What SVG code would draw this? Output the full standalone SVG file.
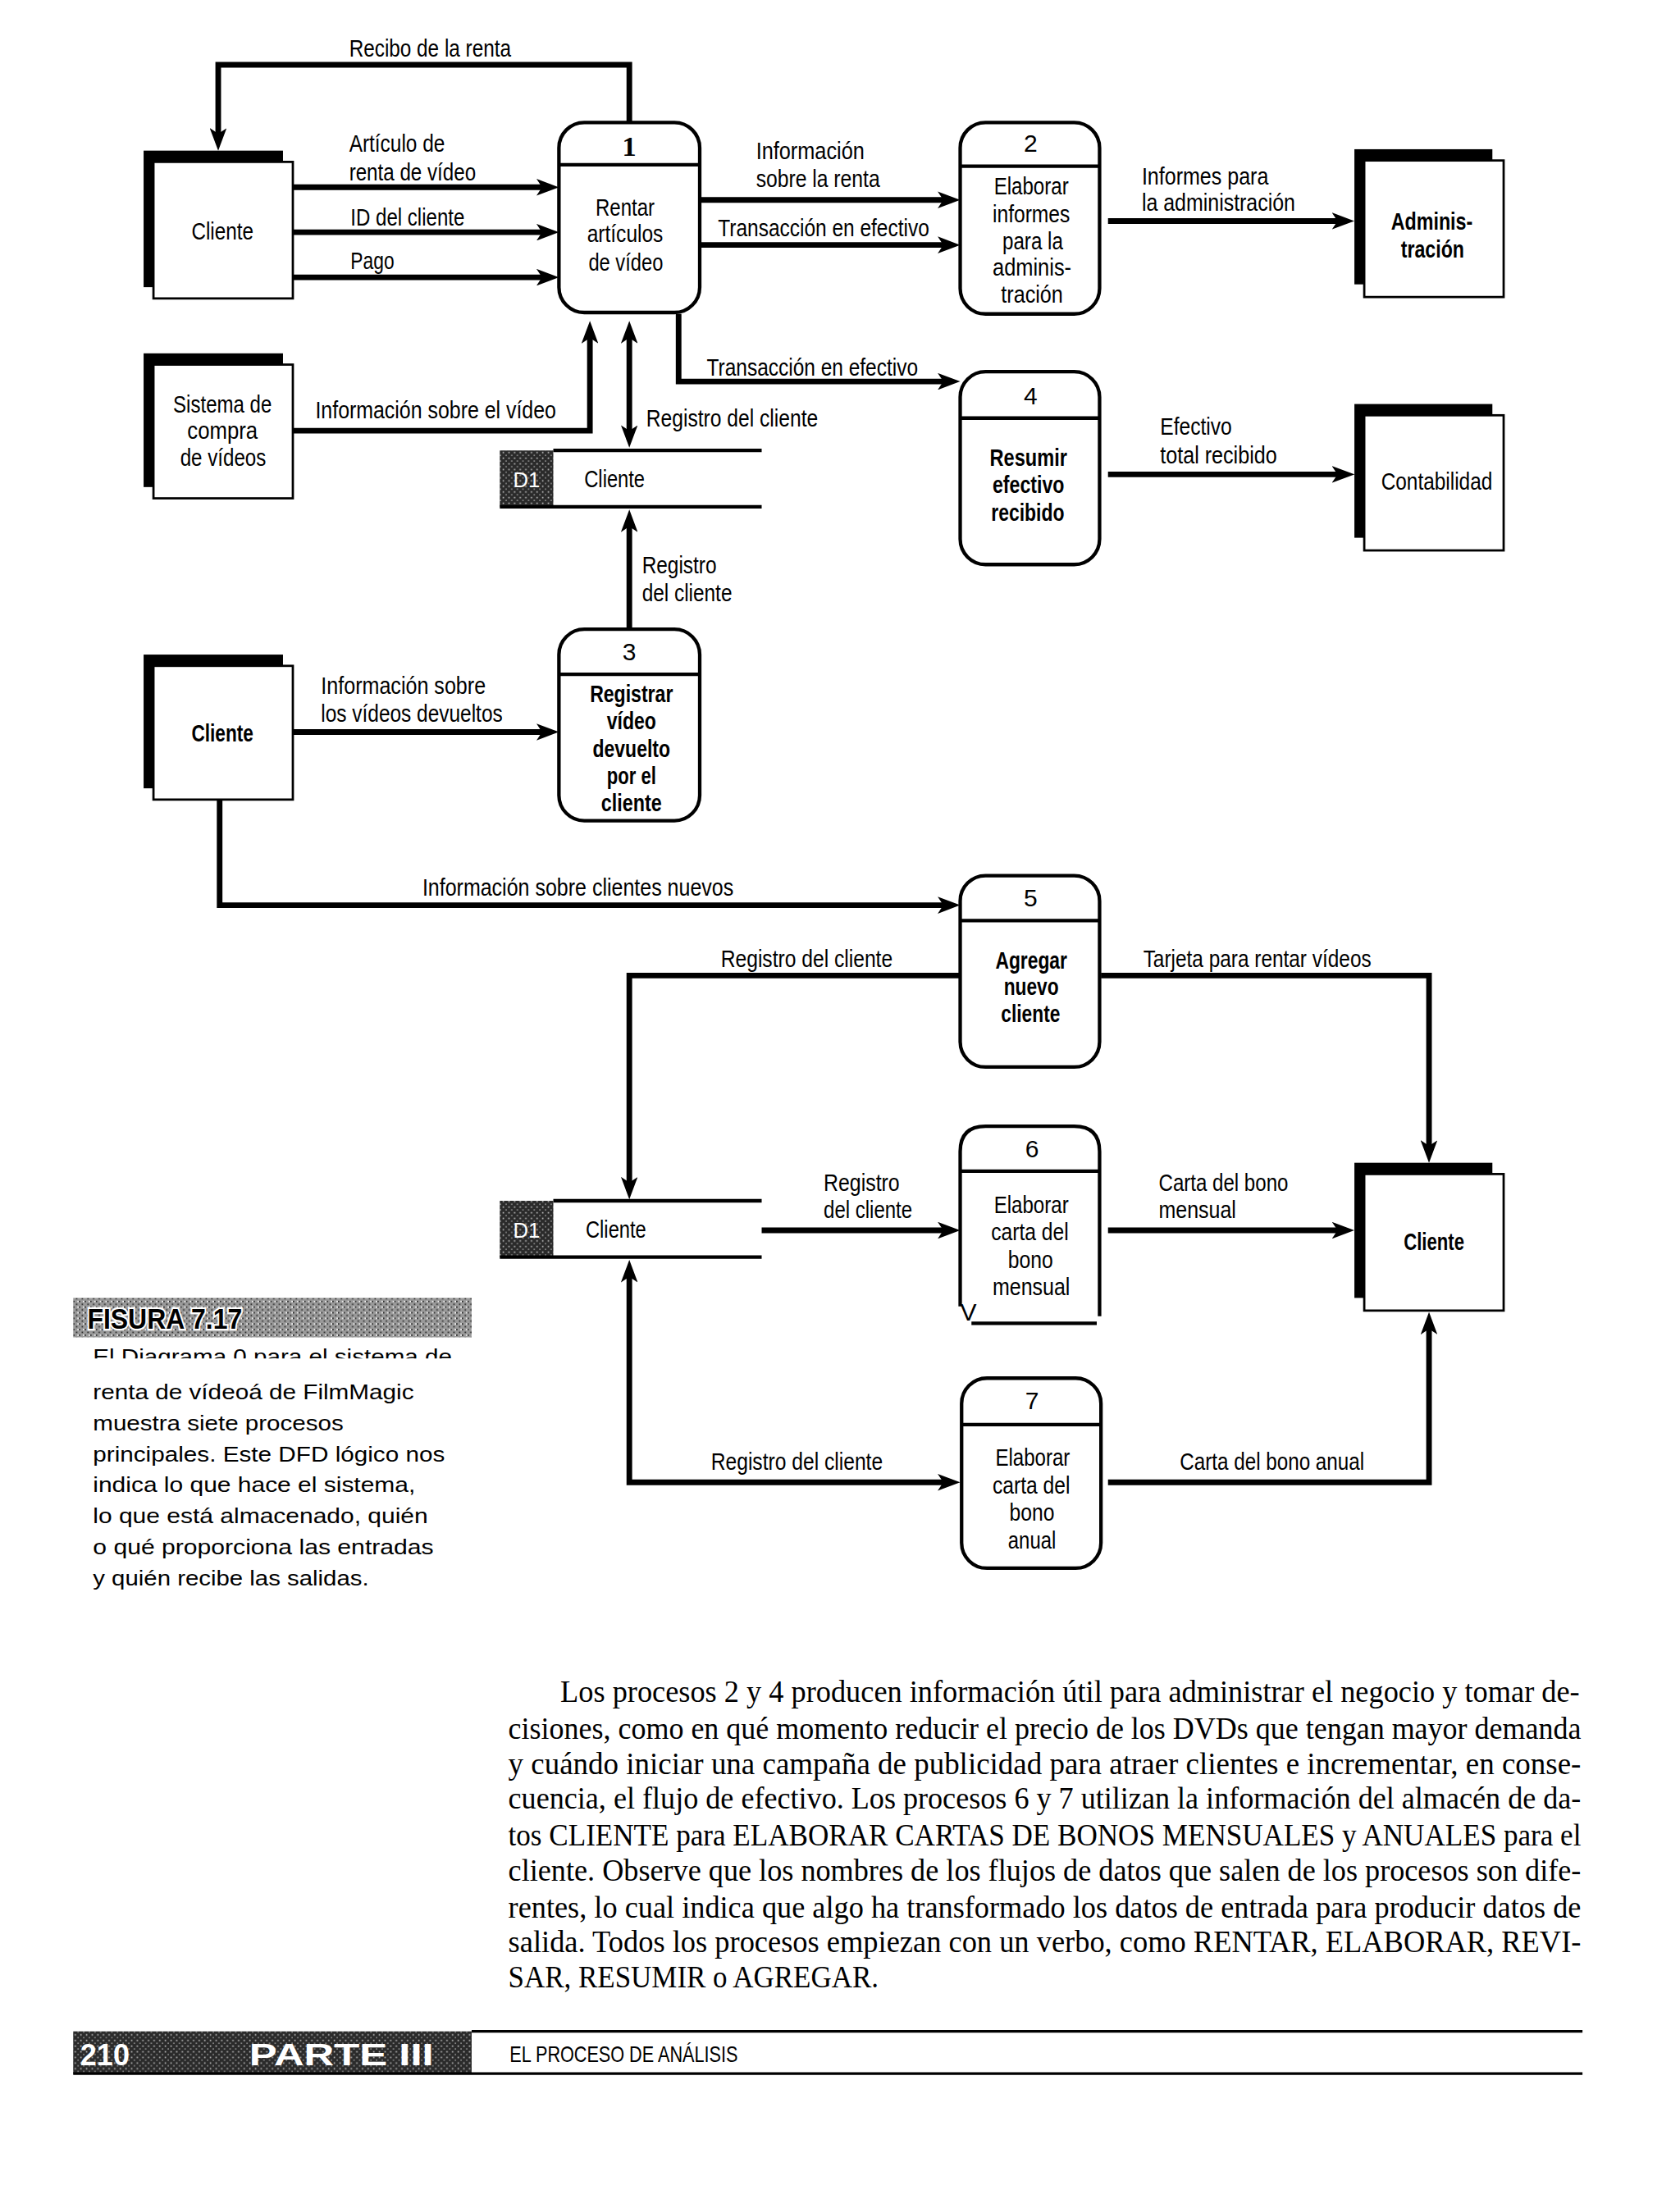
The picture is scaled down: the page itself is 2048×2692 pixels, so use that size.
<svg xmlns="http://www.w3.org/2000/svg" width="2048" height="2692" viewBox="0 0 2048 2692">
<style>
.lb{font-family:"Liberation Sans",Arial,sans-serif;font-size:17.5px;fill:#000}
.nt{font-family:"Liberation Sans",Arial,sans-serif;font-size:17.5px;fill:#000}
.bd{font-weight:bold}
.num{font-family:"Liberation Sans",Arial,sans-serif;font-size:17.5px;text-anchor:middle;fill:#000}
.cap{font-family:"Liberation Sans",Arial,sans-serif;font-size:15.5px;fill:#000}
.body{font-family:"Liberation Serif","Times New Roman",serif;font-size:22px;fill:#000}
.proc{fill:#fff;stroke:#000;stroke-width:2.5}
.hdr{stroke:#000;stroke-width:2.5}
.shadow{fill:#000}
.ent{fill:#fff;stroke:#000;stroke-width:1.6}
.flow{fill:none;stroke:#000;stroke-width:4;stroke-linejoin:miter}
.store{stroke:#000;stroke-width:2.5}
</style>
<defs>
<marker id="ah" viewBox="0 0 16 12" refX="10" refY="6" markerWidth="16" markerHeight="12" markerUnits="userSpaceOnUse" orient="auto-start-reverse">
<path d="M0,0 L16,6 L0,12 L4,6 z" fill="#000"/>
</marker>
<pattern id="hatch" width="4" height="4" patternUnits="userSpaceOnUse">
<rect width="4" height="4" fill="#9a9a9a"/>
<rect x="0" y="0" width="1" height="1" fill="#222"/>
<rect x="2" y="2" width="1" height="1" fill="#222"/>
<rect x="3" y="0" width="1" height="1" fill="#fff"/>
</pattern>
<pattern id="dark" width="4" height="4" patternUnits="userSpaceOnUse">
<rect width="4" height="4" fill="#2a2a2a"/>
<rect x="1" y="1" width="1" height="1" fill="#bbb"/>
<rect x="3" y="3" width="1" height="1" fill="#888"/>
</pattern>
<clipPath id="capclip"><rect x="50" y="950" width="290" height="15"/></clipPath>
</defs>
<rect width="2048" height="2692" fill="#fff"/>
<g transform="scale(1.7163)">

<!-- connectors -->
<g id="connectors">
<path class="flow" d="M447,87 V46 H155 V101" marker-end="url(#ah)"/>
<path class="flow" d="M208,133 H391" marker-end="url(#ah)"/>
<path class="flow" d="M208,165 H391" marker-end="url(#ah)"/>
<path class="flow" d="M208,197 H391" marker-end="url(#ah)"/>
<path class="flow" d="M498,142 H676" marker-end="url(#ah)"/>
<path class="flow" d="M498,174 H676" marker-end="url(#ah)"/>
<path class="flow" d="M787,157 H956" marker-end="url(#ah)"/>
<path class="flow" d="M482,223 V271 H676" marker-end="url(#ah)"/>
<path class="flow" d="M208,306 H419 V234" marker-end="url(#ah)"/>
<path class="flow" d="M447,312 V234" marker-start="url(#ah)" marker-end="url(#ah)"/>
<path class="flow" d="M787,337 H956" marker-end="url(#ah)"/>
<path class="flow" d="M447,447 V368" marker-end="url(#ah)"/>
<path class="flow" d="M208,520 H391" marker-end="url(#ah)"/>
<path class="flow" d="M156,568 V643 H676" marker-end="url(#ah)"/>
<path class="flow" d="M682,693 H447 V846" marker-end="url(#ah)"/>
<path class="flow" d="M782,693 H1015 V820" marker-end="url(#ah)"/>
<path class="flow" d="M541,874 H676" marker-end="url(#ah)"/>
<path class="flow" d="M787,874 H956" marker-end="url(#ah)"/>
<path class="flow" d="M676,1053 H447 V901" marker-start="url(#ah)" marker-end="url(#ah)"/>
<path class="flow" d="M787,1053 H1015 V938" marker-end="url(#ah)"/>

<text class="lb" x="248" y="40" textLength="115" lengthAdjust="spacingAndGlyphs">Recibo de la renta</text>
<text class="lb" x="248" y="108" textLength="68" lengthAdjust="spacingAndGlyphs">Artículo de</text>
<text class="lb" x="248" y="128" textLength="90" lengthAdjust="spacingAndGlyphs">renta de vídeo</text>
<text class="lb" x="249" y="160" textLength="81" lengthAdjust="spacingAndGlyphs">ID del cliente</text>
<text class="lb" x="249" y="191" textLength="31" lengthAdjust="spacingAndGlyphs">Pago</text>
<text class="lb" x="537" y="113" textLength="77" lengthAdjust="spacingAndGlyphs">Información</text>
<text class="lb" x="537" y="133" textLength="88" lengthAdjust="spacingAndGlyphs">sobre la renta</text>
<text class="lb" x="510" y="168" textLength="150" lengthAdjust="spacingAndGlyphs">Transacción en efectivo</text>
<text class="lb" x="811" y="131" textLength="90" lengthAdjust="spacingAndGlyphs">Informes para</text>
<text class="lb" x="811" y="150" textLength="109" lengthAdjust="spacingAndGlyphs">la administración</text>
<text class="lb" x="502" y="267" textLength="150" lengthAdjust="spacingAndGlyphs">Transacción en efectivo</text>
<text class="lb" x="224" y="297" textLength="171" lengthAdjust="spacingAndGlyphs">Información sobre el vídeo</text>
<text class="lb" x="459" y="303" textLength="122" lengthAdjust="spacingAndGlyphs">Registro del cliente</text>
<text class="lb" x="824" y="309" textLength="51" lengthAdjust="spacingAndGlyphs">Efectivo</text>
<text class="lb" x="824" y="329" textLength="83" lengthAdjust="spacingAndGlyphs">total recibido</text>
<text class="lb" x="456" y="407" textLength="53" lengthAdjust="spacingAndGlyphs">Registro</text>
<text class="lb" x="456" y="427" textLength="64" lengthAdjust="spacingAndGlyphs">del cliente</text>
<text class="lb" x="228" y="493" textLength="117" lengthAdjust="spacingAndGlyphs">Información sobre</text>
<text class="lb" x="228" y="513" textLength="129" lengthAdjust="spacingAndGlyphs">los vídeos devueltos</text>
<text class="lb" x="300" y="636" textLength="221" lengthAdjust="spacingAndGlyphs">Información sobre clientes nuevos</text>
<text class="lb" x="512" y="687" textLength="122" lengthAdjust="spacingAndGlyphs">Registro del cliente</text>
<text class="lb" x="812" y="687" textLength="162" lengthAdjust="spacingAndGlyphs">Tarjeta para rentar vídeos</text>
<text class="lb" x="585" y="846" textLength="54" lengthAdjust="spacingAndGlyphs">Registro</text>
<text class="lb" x="585" y="865" textLength="63" lengthAdjust="spacingAndGlyphs">del cliente</text>
<text class="lb" x="823" y="846" textLength="92" lengthAdjust="spacingAndGlyphs">Carta del bono</text>
<text class="lb" x="823" y="865" textLength="55" lengthAdjust="spacingAndGlyphs">mensual</text>
<text class="lb" x="505" y="1044" textLength="122" lengthAdjust="spacingAndGlyphs">Registro del cliente</text>
<text class="lb" x="838" y="1044" textLength="131" lengthAdjust="spacingAndGlyphs">Carta del bono anual</text>
</g>

<!-- external entities -->
<g id="ent-cliente-1">
<rect class="shadow" x="102" y="107" width="99" height="97"/>
<rect class="ent" x="109" y="115" width="99" height="97"/>
<text class="nt" x="136" y="170" textLength="44" lengthAdjust="spacingAndGlyphs">Cliente</text>
</g>
<g id="ent-sistema">
<rect class="shadow" x="102" y="251" width="99" height="95"/>
<rect class="ent" x="109" y="259" width="99" height="95"/>
<text class="nt" x="123" y="293" textLength="70" lengthAdjust="spacingAndGlyphs">Sistema de</text>
<text class="nt" x="133" y="312" textLength="50" lengthAdjust="spacingAndGlyphs">compra</text>
<text class="nt" x="128" y="331" textLength="61" lengthAdjust="spacingAndGlyphs">de vídeos</text>
</g>
<g id="ent-cliente-3">
<rect class="shadow" x="102" y="465" width="99" height="95"/>
<rect class="ent" x="109" y="473" width="99" height="95"/>
<text class="nt bd" x="136" y="527" textLength="44" lengthAdjust="spacingAndGlyphs">Cliente</text>
</g>
<g id="ent-administracion">
<rect class="shadow" x="962" y="106" width="98" height="96"/>
<rect class="ent" x="969" y="114" width="99" height="97"/>
<text class="nt bd" x="988" y="163" textLength="58" lengthAdjust="spacingAndGlyphs">Adminis-</text>
<text class="nt bd" x="995" y="183" textLength="45" lengthAdjust="spacingAndGlyphs">tración</text>
</g>
<g id="ent-contabilidad">
<rect class="shadow" x="962" y="287" width="98" height="95"/>
<rect class="ent" x="969" y="295" width="99" height="96"/>
<text class="nt" x="981" y="348" textLength="79" lengthAdjust="spacingAndGlyphs">Contabilidad</text>
</g>
<g id="ent-cliente-right">
<rect class="shadow" x="962" y="826" width="98" height="96"/>
<rect class="ent" x="969" y="834" width="99" height="97"/>
<text class="nt bd" x="997" y="888" textLength="43" lengthAdjust="spacingAndGlyphs">Cliente</text>
</g>

<!-- processes -->
<g id="proc-1">
<rect class="proc" x="397" y="87" width="100" height="135" rx="18"/>
<line class="hdr" x1="397" y1="117" x2="497" y2="117"/>
<text x="447" y="111" style="font-family:'Liberation Serif',serif;font-size:20px;font-weight:bold;text-anchor:middle">1</text>
<text class="nt" x="423" y="153" textLength="42" lengthAdjust="spacingAndGlyphs">Rentar</text>
<text class="nt" x="417" y="172" textLength="54" lengthAdjust="spacingAndGlyphs">artículos</text>
<text class="nt" x="418" y="192" textLength="53" lengthAdjust="spacingAndGlyphs">de vídeo</text>
</g>
<g id="proc-2">
<rect class="proc" x="682" y="87" width="99" height="136" rx="18"/>
<line class="hdr" x1="682" y1="118" x2="781" y2="118"/>
<text class="num" x="732" y="108">2</text>
<text class="nt" x="706" y="138" textLength="53" lengthAdjust="spacingAndGlyphs">Elaborar</text>
<text class="nt" x="705" y="158" textLength="55" lengthAdjust="spacingAndGlyphs">informes</text>
<text class="nt" x="712" y="177" textLength="43" lengthAdjust="spacingAndGlyphs">para la</text>
<text class="nt" x="705" y="196" textLength="56" lengthAdjust="spacingAndGlyphs">adminis-</text>
<text class="nt" x="711" y="215" textLength="44" lengthAdjust="spacingAndGlyphs">tración</text>
</g>
<g id="proc-4">
<rect class="proc" x="682" y="264" width="99" height="137" rx="18"/>
<line class="hdr" x1="682" y1="297" x2="781" y2="297"/>
<text class="num" x="732" y="287">4</text>
<text class="nt bd" x="703" y="331" textLength="55" lengthAdjust="spacingAndGlyphs">Resumir</text>
<text class="nt bd" x="705" y="350" textLength="51" lengthAdjust="spacingAndGlyphs">efectivo</text>
<text class="nt bd" x="704" y="370" textLength="52" lengthAdjust="spacingAndGlyphs">recibido</text>
</g>
<g id="proc-3">
<rect class="proc" x="397" y="447" width="100" height="136" rx="18"/>
<line class="hdr" x1="397" y1="479" x2="497" y2="479"/>
<text class="num" x="447" y="469">3</text>
<text class="nt bd" x="419" y="499" textLength="59" lengthAdjust="spacingAndGlyphs">Registrar</text>
<text class="nt bd" x="431" y="518" textLength="35" lengthAdjust="spacingAndGlyphs">vídeo</text>
<text class="nt bd" x="421" y="538" textLength="55" lengthAdjust="spacingAndGlyphs">devuelto</text>
<text class="nt bd" x="431" y="557" textLength="35" lengthAdjust="spacingAndGlyphs">por el</text>
<text class="nt bd" x="427" y="576" textLength="43" lengthAdjust="spacingAndGlyphs">cliente</text>
</g>
<g id="proc-5">
<rect class="proc" x="682" y="622" width="99" height="136" rx="18"/>
<line class="hdr" x1="682" y1="654" x2="781" y2="654"/>
<text class="num" x="732" y="644">5</text>
<text class="nt bd" x="707" y="688" textLength="51" lengthAdjust="spacingAndGlyphs">Agregar</text>
<text class="nt bd" x="713" y="707" textLength="39" lengthAdjust="spacingAndGlyphs">nuevo</text>
<text class="nt bd" x="711" y="726" textLength="42" lengthAdjust="spacingAndGlyphs">cliente</text>
</g>
<g id="proc-6">
<path class="proc" d="M682,928 V818 Q682,800 700,800 H763 Q781,800 781,818 V935"/>
<line class="hdr" x1="690" y1="940" x2="779" y2="940"/>
<line class="hdr" x1="682" y1="832" x2="781" y2="832"/>
<text class="num" x="733" y="822">6</text>
<text class="nt" x="706" y="862" textLength="53" lengthAdjust="spacingAndGlyphs">Elaborar</text>
<text class="nt" x="704" y="881" textLength="55" lengthAdjust="spacingAndGlyphs">carta del</text>
<text class="nt" x="716" y="901" textLength="32" lengthAdjust="spacingAndGlyphs">bono</text>
<text class="nt" x="705" y="920" textLength="55" lengthAdjust="spacingAndGlyphs">mensual</text>
<text class="nt" x="682" y="938">V</text>
</g>
<g id="proc-7">
<rect class="proc" x="683" y="979" width="99" height="135" rx="18"/>
<line class="hdr" x1="683" y1="1012" x2="782" y2="1012"/>
<text class="num" x="733" y="1001">7</text>
<text class="nt" x="707" y="1041" textLength="53" lengthAdjust="spacingAndGlyphs">Elaborar</text>
<text class="nt" x="705" y="1061" textLength="55" lengthAdjust="spacingAndGlyphs">carta del</text>
<text class="nt" x="717" y="1080" textLength="32" lengthAdjust="spacingAndGlyphs">bono</text>
<text class="nt" x="716" y="1100" textLength="34" lengthAdjust="spacingAndGlyphs">anual</text>
</g>

<!-- data stores -->
<g id="store-d1-top">
<rect x="355" y="320" width="38" height="40" fill="url(#dark)"/>
<line class="store" x1="393" y1="320" x2="541" y2="320"/>
<line class="store" x1="355" y1="360" x2="541" y2="360"/>
<text x="374" y="346" style="font-family:'Liberation Sans',sans-serif;font-size:15px;fill:#fff;text-anchor:middle">D1</text>
<text class="nt" x="415" y="346" textLength="43" lengthAdjust="spacingAndGlyphs">Cliente</text>
</g>
<g id="store-d1-bottom">
<rect x="355" y="853" width="38" height="40" fill="url(#dark)"/>
<line class="store" x1="393" y1="853" x2="541" y2="853"/>
<line class="store" x1="355" y1="893" x2="541" y2="893"/>
<text x="374" y="879" style="font-family:'Liberation Sans',sans-serif;font-size:15px;fill:#fff;text-anchor:middle">D1</text>
<text class="nt" x="416" y="879" textLength="43" lengthAdjust="spacingAndGlyphs">Cliente</text>
</g>

<!-- figure caption -->
<g id="caption">
<rect x="52" y="922" width="283" height="28" fill="url(#hatch)"/>
<text x="62" y="944" textLength="110" lengthAdjust="spacingAndGlyphs" style="font-family:'Liberation Sans',sans-serif;font-size:20px;font-weight:bold;fill:#000;stroke:#fff;stroke-width:2.5;paint-order:stroke">FISURA 7.17</text>
<text class="cap" x="66" y="969" textLength="255" lengthAdjust="spacingAndGlyphs" clip-path="url(#capclip)">El Diagrama 0 para el sistema de</text>
<text class="cap" x="66" y="994" textLength="228" lengthAdjust="spacingAndGlyphs">renta de vídeoá de FilmMagic</text>
<text class="cap" x="66" y="1016" textLength="178" lengthAdjust="spacingAndGlyphs">muestra siete procesos</text>
<text class="cap" x="66" y="1038" textLength="250" lengthAdjust="spacingAndGlyphs">principales. Este DFD lógico nos</text>
<text class="cap" x="66" y="1060" textLength="229" lengthAdjust="spacingAndGlyphs">indica lo que hace el sistema,</text>
<text class="cap" x="66" y="1082" textLength="238" lengthAdjust="spacingAndGlyphs">lo que está almacenado, quién</text>
<text class="cap" x="66" y="1104" textLength="242" lengthAdjust="spacingAndGlyphs">o qué proporciona las entradas</text>
<text class="cap" x="66" y="1126" textLength="196" lengthAdjust="spacingAndGlyphs">y quién recibe las salidas.</text>
</g>

<!-- body text -->
<g id="body">
<text class="body" x="398" y="1209" textLength="724" lengthAdjust="spacingAndGlyphs">Los procesos 2 y 4 producen información útil para administrar el negocio y tomar de-</text>
<text class="body" x="361" y="1235" textLength="762" lengthAdjust="spacingAndGlyphs">cisiones, como en qué momento reducir el precio de los DVDs que tengan mayor demanda</text>
<text class="body" x="361" y="1260" textLength="762" lengthAdjust="spacingAndGlyphs">y cuándo iniciar una campaña de publicidad para atraer clientes e incrementar, en conse-</text>
<text class="body" x="361" y="1285" textLength="762" lengthAdjust="spacingAndGlyphs">cuencia, el flujo de efectivo. Los procesos 6 y 7 utilizan la información del almacén de da-</text>
<text class="body" x="361" y="1311" textLength="762" lengthAdjust="spacingAndGlyphs">tos CLIENTE para ELABORAR CARTAS DE BONOS MENSUALES y ANUALES para el</text>
<text class="body" x="361" y="1336" textLength="762" lengthAdjust="spacingAndGlyphs">cliente. Observe que los nombres de los flujos de datos que salen de los procesos son dife-</text>
<text class="body" x="361" y="1362" textLength="762" lengthAdjust="spacingAndGlyphs">rentes, lo cual indica que algo ha transformado los datos de entrada para producir datos de</text>
<text class="body" x="361" y="1387" textLength="762" lengthAdjust="spacingAndGlyphs">salida. Todos los procesos empiezan con un verbo, como RENTAR, ELABORAR, REVI-</text>
<text class="body" x="361" y="1412" textLength="263" lengthAdjust="spacingAndGlyphs">SAR, RESUMIR o AGREGAR.</text>
</g>

<!-- footer -->
<g id="footer">
<rect x="52" y="1443" width="283" height="30" fill="url(#dark)"/>
<line x1="335" y1="1443" x2="1124" y2="1443" stroke="#000" stroke-width="2"/>
<line x1="52" y1="1473" x2="1124" y2="1473" stroke="#000" stroke-width="2"/>
<text x="57" y="1467" textLength="35" lengthAdjust="spacingAndGlyphs" style="font-family:'Liberation Sans',sans-serif;font-size:22px;font-weight:bold;fill:#fff">210</text>
<text x="177" y="1467" textLength="131" lengthAdjust="spacingAndGlyphs" style="font-family:'Liberation Sans',sans-serif;font-size:22px;font-weight:bold;fill:#fff">PARTE III</text>
<text x="362" y="1465" textLength="162" lengthAdjust="spacingAndGlyphs" style="font-family:'Liberation Sans',sans-serif;font-size:16px;fill:#000">EL PROCESO DE ANÁLISIS</text>
</g>
</g>
</svg>
